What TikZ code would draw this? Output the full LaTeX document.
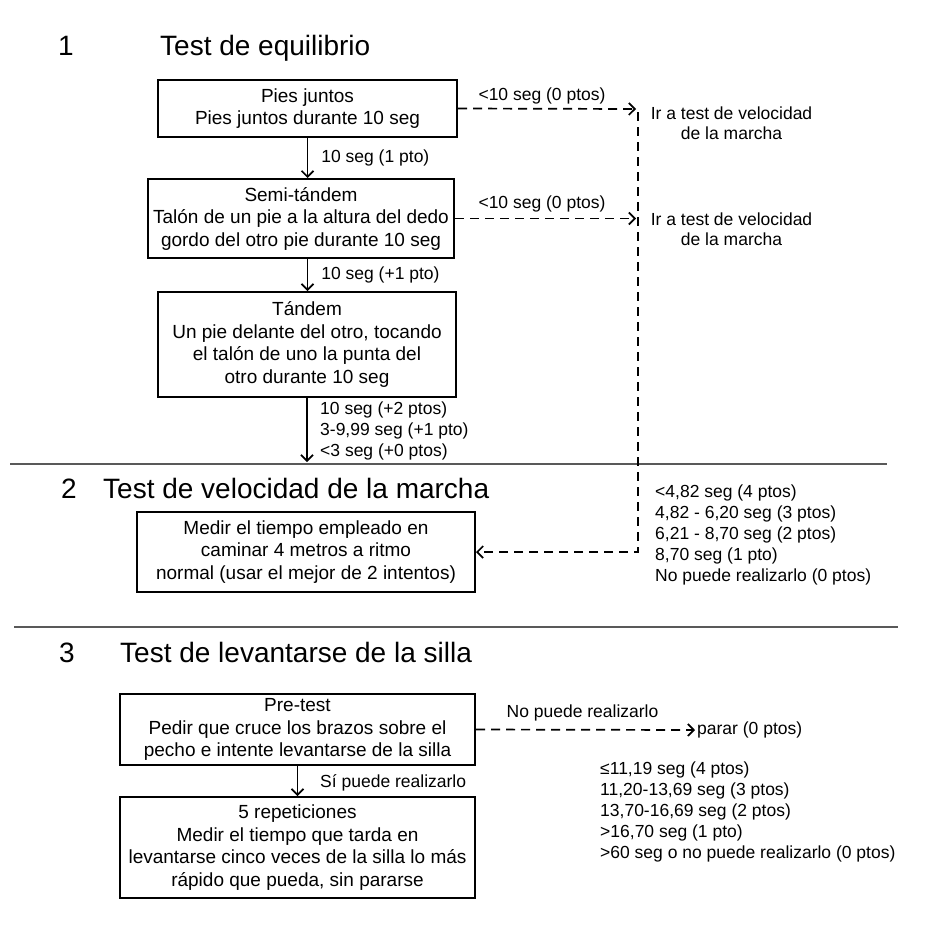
\documentclass[tikz,border=0pt]{standalone}
\usepackage{fontspec}
\setmainfont{Liberation Sans}
\usetikzlibrary{arrows.meta, positioning}

\newcommand{\boxfont}{\fontsize{19}{22.5}\selectfont}
\newcommand{\lblfont}{\fontsize{17.5}{21}\selectfont}
\newcommand{\ttlfont}{\fontsize{28}{32}\selectfont}

\tikzset{
    box/.style={draw, line width=2pt, align=center, font=\boxfont, inner sep=0pt},
    lbl/.style={font=\lblfont, align=left, inner sep=0pt, anchor=west},
    ttl/.style={font=\ttlfont, inner sep=0pt, anchor=base west},
    flow/.style={line width=1.7pt, -{Straight Barb[length=6pt, width=12pt, line width=1.7pt]}},
    skip/.style={flow, dash pattern=on 9pt off 6pt},
    sep/.style={line width=1.8pt, draw=black!65}
}

\begin{document}
\begin{tikzpicture}[x=1pt, y=-1pt]
        \useasboundingbox (0,0) rectangle (941,940);
        % 1 Test de equilibrio
        \node[ttl] (num1) at (58,55) {1};
        \node[ttl] (title1) at (160,55) {Test de equilibrio};
        \node[box, minimum width=299pt, minimum height=57pt] (pies) at (307.5,108.5) {Pies juntos\\Pies juntos durante 10 seg};
        \node[box, minimum width=306pt, minimum height=79pt] (semi) at (301,218.5) {Semi-tándem\\Talón de un pie a la altura del dedo\\gordo del otro pie durante 10 seg};
        \node[box, minimum width=298pt, minimum height=105pt] (tandem) at (307,344.5) {Tándem\\Un pie delante del otro, tocando\\el talón de uno la punta del\\otro durante 10 seg};
        \coordinate (tandemend) at (307,462);
        \draw[flow] (pies.south) -- (pies.south |- semi.north) node[lbl, pos=0.5, xshift=13pt] (l1) {10 seg (1 pto)};
        \draw[flow] (pies.south |- semi.south) -- (pies.south |- tandem.north) node[lbl, pos=0.5, xshift=13pt] (l2) {10 seg (+1 pto)};
        \draw[flow] (tandem.south) -- (tandemend);
        \node[lbl] (l3) at (320,431) {10 seg (+2 ptos)\\3-9,99 seg (+1 pto)\\<3 seg (+0 ptos)};
        % saltos a velocidad de la marcha
        \coordinate (jump1) at (636,109);
        \coordinate (jump2) at (636,218.5);
        \coordinate (vtop) at (638,112);
        \coordinate (vbot) at (638,552);
        \draw[skip] (pies.east) -- (jump1);
        \draw[skip] (semi.east) -- (jump2);
        \node[lbl, anchor=center] (f1) at (542,96) {<10 seg (0 ptos)};
        \node[lbl, anchor=center] (f2) at (542,204) {<10 seg (0 ptos)};
        \node[lbl, anchor=center, align=center, font=\fontsize{17.5}{20}\selectfont] (goto1) at (731.5,123) {Ir a test de velocidad\\de la marcha};
        \node[lbl, anchor=center, align=center, font=\fontsize{17.5}{20}\selectfont] (goto2) at (731.5,229) {Ir a test de velocidad\\de la marcha};
        %
        \draw[sep] (10,464) -- (887,464);
        % 2 Test de velocidad de la marcha
        \node[ttl] (num2) at (61,498) {2};
        \node[ttl] (title2) at (103,498) {Test de velocidad de la marcha};
        \node[box, minimum width=338pt, minimum height=80pt] (medir) at (306,552) {Medir el tiempo empleado en\\caminar 4 metros a ritmo\\normal (usar el mejor de 2 intentos)};
        \draw[skip] (vtop) -- (vbot) -- (medir.east);
        \node[lbl] (speed) at (655,535) {<4,82 seg (4 ptos)\\4,82 - 6,20 seg (3 ptos)\\6,21 - 8,70 seg (2 ptos)\\8,70 seg (1 pto)\\No puede realizarlo (0 ptos)};
        %
        \draw[sep] (14,627) -- (898,627);
        % 3 Test de levantarse de la silla
        \node[ttl] (num3) at (59,662) {3};
        \node[ttl] (title3) at (120,662) {Test de levantarse de la silla};
        \node[box, minimum width=355pt, minimum height=71pt] (pretest) at (297.5,729.5) {Pre-test\\Pedir que cruce los brazos sobre el\\pecho e intente levantarse de la silla};
        \node[box, minimum width=355pt, minimum height=101pt] (reps) at (297.5,847.5) {5 repeticiones\\Medir el tiempo que tarda en\\levantarse cinco veces de la silla lo más\\rápido que pueda, sin pararse};
        \draw[flow] (pretest.south) -- (reps.north);
        \node[lbl] (yes) at (320,783) {Sí puede realizarlo};
        \node[lbl] (stop) at (697,730) {parar (0 ptos)};
        \draw[skip] (pretest.east) -- ([xshift=-2pt]stop.west);
        \node[lbl, anchor=center] (cannot) at (582.5,713) {No puede realizarlo};
        \node[lbl] (chair) at (600,812) {≤11,19 seg (4 ptos)\\11,20-13,69 seg (3 ptos)\\13,70-16,69 seg (2 ptos)\\>16,70 seg (1 pto)\\>60 seg o no puede realizarlo (0 ptos)};
    \end{tikzpicture}
\end{document}
